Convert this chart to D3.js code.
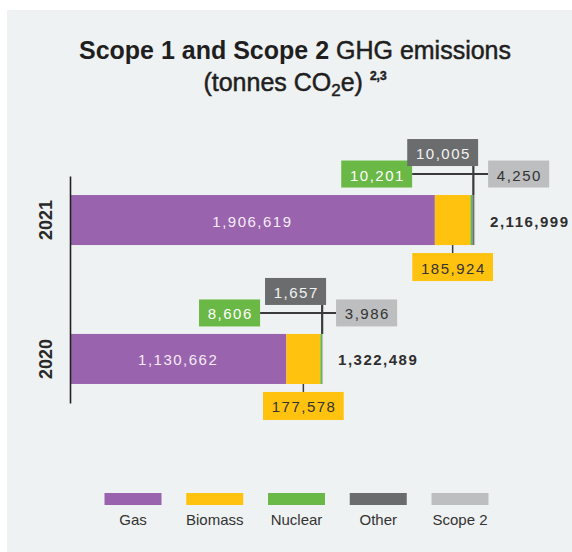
<!DOCTYPE html>
<html><head><meta charset="utf-8">
<script src="https://cdn.jsdelivr.net/npm/d3@7"></script>
<style>
body{margin:0;background:#fff}
svg{display:block}
text{font-family:"Liberation Sans",Arial,sans-serif}
</style>
</head><body>
<svg id="chart" width="572" height="552"></svg>
<script>
// ---- data ----
const years = ["2021", "2020"];
const categories = ["Gas", "Biomass", "Nuclear", "Other", "Scope 2"];
const gasValues = [1906619, 1130662];
const biomassValues = [185924, 177578];
const nuclearValues = [10201, 8606];
const otherValues = [10005, 1657];
const scope2Values = [4250, 3986];
const totalValues = [2116999, 1322489];
const colors = ["#9a63ad", "#ffc20e", "#6ab845", "#6b6c6e", "#bdbebf"];

const fmt = d3.format(",");
const svg = d3.select("#chart");

// panel
svg.append("rect").attr("x", 7).attr("y", 10).attr("width", 565).attr("height", 542).attr("fill", "#eff2f2");

// title
const t1 = svg.append("text").attr("x", 295).attr("y", 59).attr("text-anchor", "middle")
  .attr("fill", "#1f1f1f").style("font-size", "25px");
t1.append("tspan").attr("font-weight", "bold").text("Scope 1 and Scope 2 ");
t1.append("tspan").attr("stroke", "#1f1f1f").attr("stroke-width", 0.5).text("GHG emissions");
const t2 = svg.append("text").attr("x", 295).attr("y", 91).attr("text-anchor", "middle")
  .attr("fill", "#1f1f1f").attr("stroke", "#1f1f1f").attr("stroke-width", 0.5).style("font-size", "25px");
t2.append("tspan").text("(tonnes CO");
t2.append("tspan").style("font-size", "17px").attr("dy", 5).text("2");
t2.append("tspan").attr("dy", -5).text("e) ");
t2.append("tspan").style("font-size", "12px").attr("font-weight", "bold").attr("dy", -11).text("2,3");

// table & stack
const table = years.map((yr, i) => ({
  year: yr,
  "Gas": gasValues[i],
  "Biomass": biomassValues[i],
  "Nuclear": nuclearValues[i],
  "Other": otherValues[i],
  "Scope 2": scope2Values[i],
  total: totalValues[i]
}));
const stacked = d3.stack().keys(categories)(table);

const x = d3.scaleLinear().domain([0, 2200000]).range([70, 491]);
const y = d3.scaleBand().domain(years).range([176, 403]).paddingInner(0.64).paddingOuter(0.137);
const color = d3.scaleOrdinal().domain(categories).range(colors);

// bars
svg.append("g").selectAll("g").data(stacked).join("g")
  .attr("fill", d => color(d.key))
  .selectAll("rect").data(d => d).join("rect")
  .attr("x", d => x(d[0]))
  .attr("y", d => y(d.data.year))
  .attr("width", d => x(d[1]) - x(d[0]))
  .attr("height", y.bandwidth());

// axis
const ax = svg.append("g").attr("transform", "translate(70,0)")
  .call(d3.axisLeft(y).tickSize(0).tickPadding(0));
ax.select(".domain").attr("stroke", "#222").attr("stroke-width", 1.6);
ax.selectAll(".tick text")
  .attr("transform", "rotate(-90)")
  .attr("x", 0).attr("y", -18).attr("dy", 0)
  .attr("text-anchor", "middle")
  .attr("fill", "#2a2a2a")
  .style("font-family", '"Liberation Sans",Arial,sans-serif')
  .style("font-size", "18px").style("font-weight", "bold");

// label helpers
const LINE = "#3a3a3a";
function boxLabel(parent, txt, fill, tcolor) {
  const g = parent.append("g");
  const rect = g.append("rect").attr("fill", fill);
  const tx = g.append("text").text(txt).attr("fill", tcolor)
    .style("font-size", "15px").style("letter-spacing", "1.5px")
    .attr("text-anchor", "middle").attr("dominant-baseline", "central");
  const w = tx.node().getBBox().width + 16;
  return {
    g, w,
    place(left, top, h) {
      rect.attr("x", left).attr("y", top).attr("width", w).attr("height", h);
      tx.attr("x", left + w / 2 + 0.75).attr("y", top + h / 2 + 1);
    }
  };
}

const labels = svg.append("g");
table.forEach((d, i) => {
  const barTop = y(d.year), bw = y.bandwidth(), barBot = barTop + bw, barMid = barTop + bw / 2;
  const xEnd = x(d.total);
  const lineY = barTop - 21;
  const H = 27;

  // gas label
  labels.append("text").attr("x", (x(0) + x(d.Gas)) / 2).attr("y", barMid + 1)
    .attr("text-anchor", "middle").attr("dominant-baseline", "central")
    .attr("fill", "#f4ecf7").style("font-size", "15px").style("letter-spacing", "1.5px")
    .text(fmt(d.Gas));

  // lines
  const otherMid = x(d.Gas + d.Biomass + d.Nuclear + d.Other / 2);
  const nuc = boxLabel(labels, fmt(d.Nuclear), colors[2], "#ffffff");
  const oth = boxLabel(labels, fmt(d.Other), colors[3], "#f2f2f2");
  const sc2 = boxLabel(labels, fmt(d["Scope 2"]), colors[4], "#333333");
  const nucRight = xEnd - 63;
  nuc.place(nucRight - nuc.w, lineY - H / 2, H);
  const othTop = lineY - 8 - H;
  oth.place(xEnd + 3 - oth.w, othTop, H);
  sc2.place(xEnd + 13, lineY - H / 2, H);
  labels.append("line").attr("x1", nucRight).attr("x2", xEnd + 13).attr("y1", lineY).attr("y2", lineY)
    .attr("stroke", LINE).attr("stroke-width", 2);
  labels.append("line").attr("x1", otherMid).attr("x2", otherMid).attr("y1", othTop + H).attr("y2", barTop)
    .attr("stroke", LINE).attr("stroke-width", 2.2);
  nuc.g.raise(); oth.g.raise(); sc2.g.raise();

  // biomass
  const bioMid = x(d.Gas + d.Biomass / 2);
  labels.append("line").attr("x1", bioMid).attr("x2", bioMid).attr("y1", barBot).attr("y2", barBot + 8)
    .attr("stroke", LINE).attr("stroke-width", 1.5);
  const bio = boxLabel(labels, fmt(d.Biomass), colors[1], "#333333");
  bio.place(bioMid - bio.w / 2, barBot + 8, 28);

  // total
  labels.append("text").attr("x", xEnd + 15).attr("y", barMid + 1)
    .attr("dominant-baseline", "central").attr("fill", "#2e2e2e")
    .style("font-size", "15px").style("font-weight", "bold").style("letter-spacing", "1.5px")
    .text(fmt(d.total));
});

// legend
const lx = d3.scalePoint().domain(categories).range([133, 460]);
const leg = svg.append("g").selectAll("g").data(categories).join("g")
  .attr("transform", d => `translate(${lx(d)},0)`);
leg.append("rect").attr("x", -28.5).attr("y", 493).attr("width", 57).attr("height", 12)
  .attr("fill", d => color(d));
leg.append("text").attr("y", 525).attr("text-anchor", "middle").attr("fill", "#333")
  .style("font-size", "15px").text(d => d);
</script>
</body></html>
